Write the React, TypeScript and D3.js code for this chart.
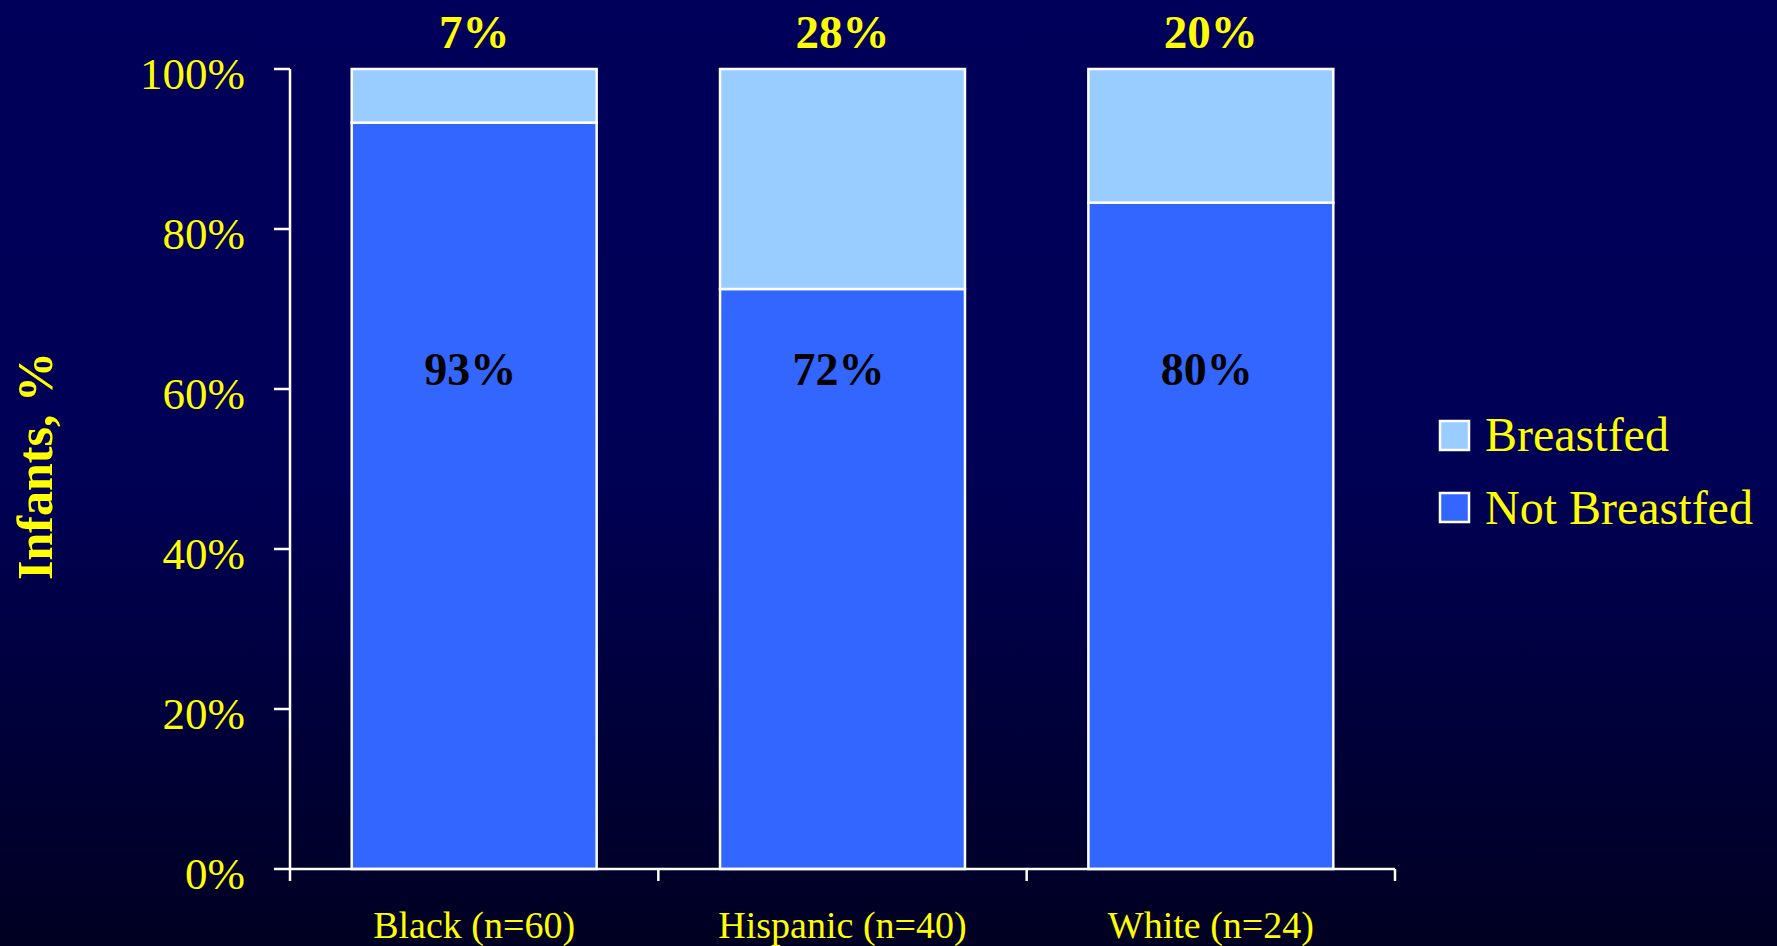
import React from "react";
import * as d3 from "d3";

const categories = ["Black (n=60)", "Hispanic (n=40)", "White (n=24)"];
const notBreastfed = [93.3, 72.5, 83.3];
const breastfed = [6.7, 27.5, 16.7];
const topLabels = ["7%", "28%", "20%"];
const innerLabels = ["93%", "72%", "80%"];
const yTicks = [0, 20, 40, 60, 80, 100];
const seriesNames = ["Breastfed", "Not Breastfed"];
const seriesColors = ["#99CCFF", "#3366FF"];

const W = 1777;
const H = 946;
const FONT = "'Liberation Serif', 'Times New Roman', serif";
const YELLOW = "#FFFF00";

export default function App() {
  const left = 290, right = 1395, top = 69, bottom = 869;
  const x = d3.scaleBand<string>().domain(categories).range([left, right]).padding(0);
  const y = d3.scaleLinear().domain([0, 100]).range([bottom, top]);
  const bw = x.bandwidth() * 0.665;
  const rows = categories.map((c, i) => ({ c, nb: notBreastfed[i], b: breastfed[i] }));
  const stack = d3.stack<any>().keys(["nb", "b"])(rows);
  const xEdges = [...categories.map((c) => x(c)!), right];

  return (
    <svg width={W} height={H} style={{ position: "absolute", left: 0, top: 0, display: "block" }}>
      <defs>
        <linearGradient id="bg" x1="0" y1="0" x2="0" y2="1">
          <stop offset="0%" stopColor="#00005a" />
          <stop offset="50%" stopColor="#000055" />
          <stop offset="100%" stopColor="#000022" />
        </linearGradient>
      </defs>
      <rect x={0} y={0} width={W} height={H} fill="url(#bg)" />

      {/* bars */}
      {stack.map((layer, li) =>
        layer.map((d, i) => {
          const cx = x(categories[i])! + x.bandwidth() / 2;
          return (
            <rect
              key={`${li}-${i}`}
              x={cx - bw / 2}
              y={y(d[1])}
              width={bw}
              height={y(d[0]) - y(d[1])}
              fill={li === 0 ? seriesColors[1] : seriesColors[0]}
              stroke="#FFFFFF"
              strokeWidth={2.5}
            />
          );
        })
      )}

      {/* axes */}
      <line x1={left} x2={left} y1={top} y2={bottom} stroke="#FFFFFF" strokeWidth={2.5} />
      <line x1={left} x2={right} y1={bottom} y2={bottom} stroke="#FFFFFF" strokeWidth={2.5} />
      {yTicks.map((t) => (
        <g key={t}>
          <line x1={left - 16} x2={left} y1={y(t)} y2={y(t)} stroke="#FFFFFF" strokeWidth={2.5} />
          <text x={245} y={y(t) + 20} textAnchor="end" fill={YELLOW} fontFamily={FONT} fontSize={45}>
            {t}%
          </text>
        </g>
      ))}
      {xEdges.map((ex, i) => (
        <line key={i} x1={ex} x2={ex} y1={bottom} y2={bottom + 12} stroke="#FFFFFF" strokeWidth={2.5} />
      ))}
      {categories.map((c) => (
        <text key={c} x={x(c)! + x.bandwidth() / 2} y={938} textAnchor="middle" fill={YELLOW} fontFamily={FONT} fontSize={38}>
          {c}
        </text>
      ))}

      {/* value labels */}
      {categories.map((c, i) => (
        <text key={"t" + c} x={x(c)! + x.bandwidth() / 2} y={48} textAnchor="middle" fill={YELLOW} fontFamily={FONT} fontWeight="bold" fontSize={47}>
          {topLabels[i]}
        </text>
      ))}
      {categories.map((c, i) => (
        <text key={"i" + c} x={x(c)! + x.bandwidth() / 2 - 4} y={y(60) - 4} textAnchor="middle" fill="#000000" fontFamily={FONT} fontWeight="bold" fontSize={46}>
          {innerLabels[i]}
        </text>
      ))}

      {/* y title */}
      <text transform="translate(52,466) rotate(-90)" textAnchor="middle" fill={YELLOW} fontFamily={FONT} fontWeight="bold" fontSize={50}>
        Infants, %
      </text>

      {/* legend */}
      {seriesNames.map((s, i) => (
        <g key={s}>
          <rect x={1440} y={421 + i * 72} width={29} height={29} fill={seriesColors[i]} stroke="#FFFFFF" strokeWidth={2.5} />
          <text x={1485} y={451 + i * 73} fill={YELLOW} fontFamily={FONT} fontSize={48}>
            {s}
          </text>
        </g>
      ))}
    </svg>
  );
}
